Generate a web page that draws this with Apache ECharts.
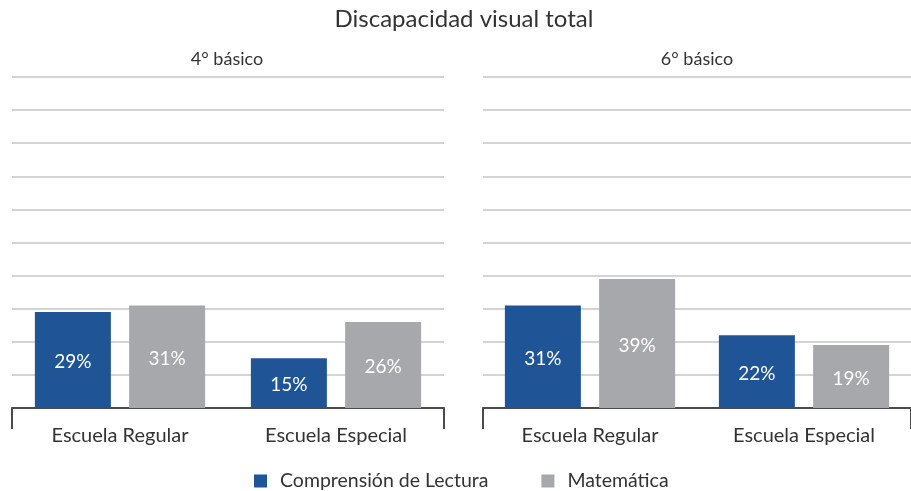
<!DOCTYPE html>
<html>
<head>
<meta charset="utf-8">
<script src="https://cdn.jsdelivr.net/npm/echarts@6/dist/echarts.min.js"></script>
<style>
  html, body { margin: 0; padding: 0; background: #fff; }
  #chart { width: 911px; height: 491px; }
</style>
</head>
<body>
<div id="chart"></div>
<script>
// datos
var categories = ['Escuela Regular', 'Escuela Especial']
var chartTitle = 'Discapacidad visual total'
var panelTitles = ['4° básico', '6° básico']
var seriesNames = ['Comprensión de Lectura', 'Matemática']
var lectura4 = [29, 15]
var matematica4 = [31, 26]
var lectura6 = [31, 22]
var matematica6 = [39, 19]

var azul = '#1f5597'
var gris = '#a7a8ac'
var fuente = 'Lato'

function xAxisFor (gridIndex) {
  return {
    type: 'category',
    gridIndex: gridIndex,
    data: categories,
    axisLine: { lineStyle: { color: '#4a4a4a', width: 2 } },
    axisTick: {
      show: true,
      length: 21,
      interval: function (index) { return index === 0 },
      lineStyle: { color: '#4a4a4a', width: 2 }
    },
    axisLabel: { color: '#333', fontSize: 20, fontFamily: fuente, margin: 18 }
  }
}

function yAxisFor (gridIndex) {
  return {
    type: 'value',
    gridIndex: gridIndex,
    min: 0,
    max: 100,
    interval: 10,
    axisLabel: { show: false },
    axisLine: { show: false },
    axisTick: { show: false },
    splitLine: { lineStyle: { color: '#c6c6c6', width: 1.5 } }
  }
}

function barSeries (name, values, color, index) {
  return {
    name: name,
    type: 'bar',
    xAxisIndex: index,
    yAxisIndex: index,
    data: values,
    barWidth: 76,
    barGap: '24%',
    itemStyle: { color: color },
    label: {
      show: true,
      position: 'inside',
      formatter: '{c}%',
      color: '#fff',
      fontSize: 19,
      fontFamily: fuente,
      offset: [0, 2]
    }
  }
}

var chart = echarts.init(document.getElementById('chart'))
chart.setOption({
  animation: false,
  graphic: [
    { type: 'text', x: 464, y: 7, style: { text: chartTitle, align: 'center', fill: '#333', fontSize: 24, fontFamily: fuente } },
    { type: 'text', x: 227, y: 50, style: { text: panelTitles[0], align: 'center', fill: '#333', fontSize: 18, fontFamily: fuente } },
    { type: 'text', x: 697, y: 50, style: { text: panelTitles[1], align: 'center', fill: '#333', fontSize: 18, fontFamily: fuente } }
  ],
  legend: {
    top: 466,
    left: 249,
    itemWidth: 13,
    itemHeight: 13,
    itemGap: 53,
    icon: 'rect',
    data: seriesNames,
    textStyle: { color: '#333', fontSize: 19.5, fontFamily: fuente, padding: [0, 0, 0, 8] }
  },
  grid: [
    { left: 12, top: 77, width: 432, height: 331 },
    { left: 483, top: 77, width: 428, height: 331 }
  ],
  xAxis: [xAxisFor(0), xAxisFor(1)],
  yAxis: [yAxisFor(0), yAxisFor(1)],
  series: [
    barSeries(seriesNames[0], lectura4, azul, 0),
    barSeries(seriesNames[1], matematica4, gris, 0),
    barSeries(seriesNames[0], lectura6, azul, 1),
    barSeries(seriesNames[1], matematica6, gris, 1)
  ]
})
</script>
</body>
</html>
